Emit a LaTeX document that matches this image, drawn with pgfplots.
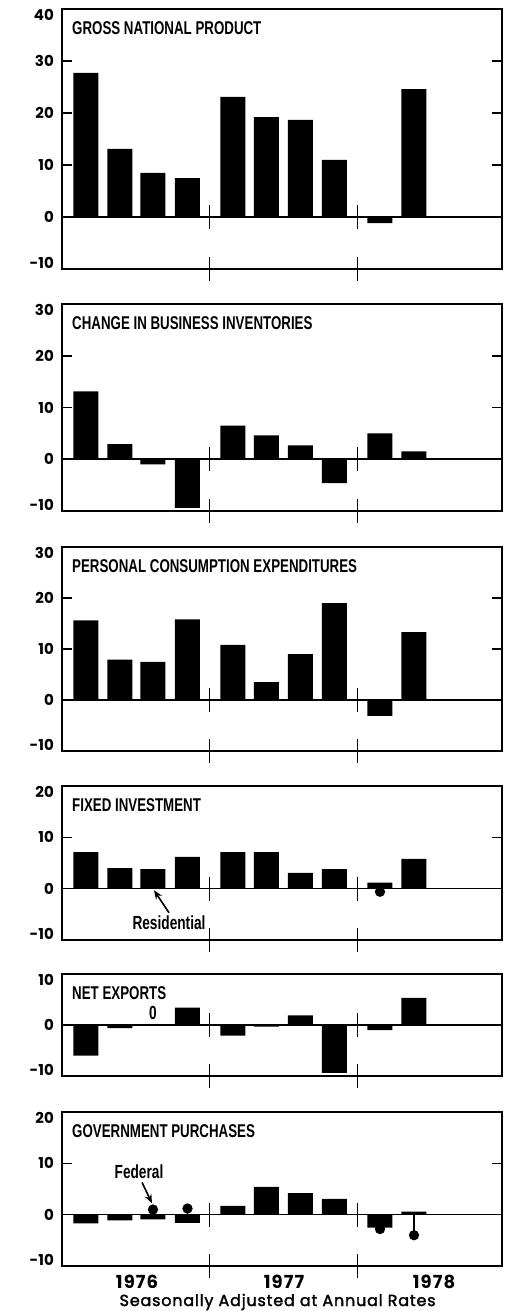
\documentclass[border=0pt]{standalone}
\usepackage{fontspec}
\setmainfont{Poppins}
\newfontfamily\condfont{Liberation Sans}[FakeStretch=0.72]
\newfontfamily\popfb{Poppins}[FakeBold=2, LetterSpace=5]
\newfontfamily\popyr{Poppins}[LetterSpace=6]
\usepackage{pgfplots}
\pgfplotsset{compat=1.18}
\usetikzlibrary{arrows.meta}

\newcommand\tickfont{\fontsize{15bp}{15bp}\selectfont\bfseries}
\newcommand\yearfont{\popyr\fontsize{18bp}{18bp}\selectfont\bfseries}
\newcommand\xlfont{\popfb\fontsize{16bp}{16bp}\selectfont}
\newcommand\titlefont{\condfont\bfseries\fontsize{18.5bp}{20bp}\selectfont}
\newcommand\notefont{\condfont\bfseries\fontsize{19bp}{20bp}\selectfont}

\pgfplotsset{
 panel/.style={
   scale only axis, width=440bp, xmin=0, xmax=440, clip=false,
   axis line style={line width=1.6bp},
   xtick=\empty,
   tick align=inside, major tick length=10bp,
   every tick/.style={line width=1.6bp, black},
   yticklabel style={font=\tickfont, anchor=base east, yshift=-5.5bp, xshift=-8bp, inner sep=0pt},
   anchor=north west,
 },
 bars/.style={ybar, bar width=25, fill=black, draw=none},
 zline/.style={black, line width=1.6bp, mark=none},
 dots/.style={black, ycomb, line width=1.6bp, mark=*, mark size=4.3bp, mark options={fill=black}},
}
\newcommand\seps[1]{%
  \draw[line width=1.6bp] ([yshift=12bp]axis cs:147.5,0) -- ([yshift=-12bp]axis cs:147.5,0);
  \draw[line width=1.6bp] ([yshift=12bp]axis cs:295.5,0) -- ([yshift=-12bp]axis cs:295.5,0);
  \draw[line width=1.6bp] ([yshift=12bp]axis cs:147.5,#1) -- ([yshift=-12bp]axis cs:147.5,#1);
  \draw[line width=1.6bp] ([yshift=12bp]axis cs:295.5,#1) -- ([yshift=-12bp]axis cs:295.5,#1);
}
\newcommand\ptitle[1]{\node[anchor=base west, inner sep=0pt] at ([xshift=10bp,yshift=-25bp]rel axis cs:0,1) {\titlefont #1};}

\begin{document}
\begin{tikzpicture}
\useasboundingbox (-62bp,0) rectangle (447bp,-1311bp);

% 1 GNP
\begin{axis}[panel, at={(0bp,-9bp)}, height=260bp, ymin=-10, ymax=40,
  ytick={-10,0,10,20,30,40},
  yticklabels={\raisebox{6bp}{-10},0,10,20,30,\raisebox{-6bp}{40}}]
\addplot[bars] coordinates {(24,27.7) (58,13.1) (91,8.5) (125.5,7.5) (171,23.1) (204.5,19.2) (238.5,18.7) (272.5,11.0) (318,-1.2) (352,24.6)};
\addplot[zline] coordinates {(0,0) (440,0)};
\seps{-10}
\ptitle{GROSS NATIONAL PRODUCT}
\end{axis}

% 2 CBI
\begin{axis}[panel, at={(0bp,-304bp)}, height=207bp, ymin=-10, ymax=30,
  ytick={-10,0,10,20,30},
  yticklabels={\raisebox{6bp}{-10},0,10,20,\raisebox{-6bp}{30}}]
\addplot[bars] coordinates {(24,13.1) (58,2.9) (91,-1.0) (125.5,-9.4) (171,6.5) (204.5,4.6) (238.5,2.7) (272.5,-4.6) (318,5.0) (352,1.5)};
\addplot[zline] coordinates {(0,0) (440,0)};
\seps{-10}
\ptitle{CHANGE IN BUSINESS INVENTORIES}
\end{axis}

% 3 PCE
\begin{axis}[panel, at={(0bp,-547bp)}, height=204bp, ymin=-10, ymax=30,
  ytick={-10,0,10,20,30},
  yticklabels={\raisebox{6bp}{-10},0,10,20,\raisebox{-6bp}{30}}]
\addplot[bars] coordinates {(24,15.6) (58,7.9) (91,7.5) (125.5,15.8) (171,10.8) (204.5,3.5) (238.5,9.0) (272.5,19.0) (318,-3.1) (352,13.3)};
\addplot[zline] coordinates {(0,0) (440,0)};
\seps{-10}
\ptitle{PERSONAL CONSUMPTION EXPENDITURES}
\end{axis}

% 4 Fixed investment
\begin{axis}[panel, at={(0bp,-786bp)}, height=154bp, ymin=-10, ymax=20,
  ytick={-10,0,10,20},
  yticklabels={\raisebox{6bp}{-10},0,10,\raisebox{-6bp}{20}}]
\addplot[bars] coordinates {(24,7.1) (58,4.0) (91,3.8) (125.5,6.2) (171,7.1) (204.5,7.1) (238.5,3.1) (272.5,3.8) (318,1.2) (352,5.8)};
\addplot[zline] coordinates {(0,0) (440,0)};
\addplot[dots] coordinates {(318,-0.6)};
\seps{-10}
\ptitle{FIXED INVESTMENT}
\node[anchor=base, inner sep=0pt] at (axis cs:107,-8.0) {\notefont Residential};
\draw[-{Stealth[length=9bp,width=7bp]}, line width=1.6bp] (axis cs:107,-4.7) -- (axis cs:92,-0.3);
\end{axis}

% 5 Net exports
\begin{axis}[panel, at={(0bp,-974bp)}, height=102bp, ymin=-10, ymax=10,
  ytick={-10,0,10},
  yticklabels={\raisebox{6bp}{-10},0,\raisebox{-6bp}{10}}]
\addplot[bars] coordinates {(24,-6.0) (58,-0.6) (91,0) (125.5,3.4) (171,-2.1) (204.5,-0.3) (238.5,1.9) (272.5,-9.4) (318,-1.0) (352,5.3)};
\addplot[zline] coordinates {(0,0) (440,0)};
\seps{-10}
\ptitle{NET EXPORTS}
\node[anchor=base, inner sep=0pt] at (axis cs:91,1.0) {\notefont 0};
\end{axis}

% 6 Government purchases
\begin{axis}[panel, at={(0bp,-1112bp)}, height=154bp, ymin=-10, ymax=20,
  ytick={-10,0,10,20},
  yticklabels={\raisebox{6bp}{-10},0,10,\raisebox{-6bp}{20}},
  xtick={75,222,372}, xticklabels={1976,1977,1978},
  xtick style={draw=none},
  xticklabel style={font=\yearfont, anchor=base, yshift=-22bp, inner sep=0pt},
  xlabel={Seasonally Adjusted at Annual Rates},
  xlabel style={font=\xlfont, at={(axis description cs:0.49,0)}, anchor=base, yshift=-40bp, inner sep=0pt}]
\addplot[bars] coordinates {(24,-1.7) (58,-1.1) (91,-0.9) (125.5,-1.6) (171,1.7) (204.5,5.4) (238.5,4.2) (272.5,3.1) (318,-2.5) (352,0.6)};
\addplot[zline] coordinates {(0,0) (440,0)};
\addplot[dots] coordinates {(91,1.0) (125.5,1.2) (318,-2.8) (352,-4.0)};
\seps{-10}
\ptitle{GOVERNMENT PURCHASES}
\node[anchor=base, inner sep=0pt] at (axis cs:77,7.1) {\notefont Federal};
\draw[-{Stealth[length=9bp,width=7bp]}, line width=1.6bp] (axis cs:80,6.3) -- (axis cs:90,2.2);
\end{axis}
\end{tikzpicture}
\end{document}
